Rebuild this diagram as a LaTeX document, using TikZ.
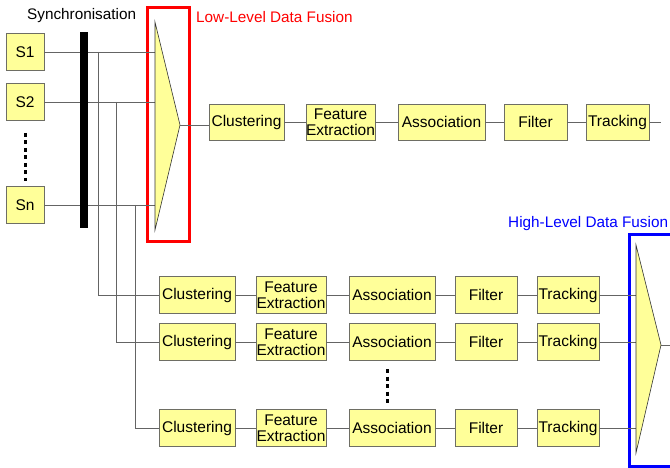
\documentclass[tikz,border=0pt]{standalone}
\usepackage{fontspec}
\setmainfont{Liberation Sans}
\definecolor{boxfill}{RGB}{255,255,153}
\definecolor{boxline}{RGB}{110,110,100}
\definecolor{conn}{RGB}{100,100,100}
\tikzset{
  proc/.style={draw=boxline, fill=boxfill, line width=0.9pt, inner sep=0pt,
    minimum height=36pt, align=center, font=\fontsize{15.5}{16.5}\selectfont},
  wire/.style={draw=conn, line width=0.9pt},
  fuse/.style={draw=black!80, fill=boxfill, line width=0.6pt},
  dotcol/.style={draw=black, line width=3pt, dash pattern=on 4pt off 3.5pt},
  lbl/.style={font=\fontsize{15.3}{17}\selectfont, inner sep=0pt, anchor=west}
}
\begin{document}
\begin{tikzpicture}[x=1pt,y=-1pt]
\useasboundingbox (0,0) rectangle (670,468);
\clip (0,0) rectangle (670,468);
\fill[white] (0,0) rectangle (670,468);

% labels
\node[lbl] (synclbl) at (27,16) {Synchronisation};
\node[lbl, text={rgb,255:red,255;green,0;blue,0}] (lowlbl) at (196,17) {Low-Level Data Fusion};
\node[lbl, text={rgb,255:red,0;green,0;blue,255}] (highlbl) at (508,224) {High-Level Data Fusion};

% sensors
\node[proc, minimum width=38pt, minimum height=37pt] (s1) at (25,52) {S1};
\node[proc, minimum width=38pt, minimum height=37pt] (s2) at (25,102) {S2};
\node[proc, minimum width=38pt, minimum height=37pt] (sn) at (25,205) {Sn};
\draw[dotcol] (25,133) -- (25,181);

% low level fusion triangle
\coordinate (lt) at (155,22);
\coordinate (lb) at (155,230);
\coordinate (ltip) at (180,125);
\draw[red, line width=3pt] (147,8) rectangle (189,242);

% top row
\node[proc, minimum width=75pt] (c0) at (246.5,122) {Clustering};
\node[proc, minimum width=69pt] (f0) at (340.5,122) {Feature\\Extraction};
\node[proc, minimum width=87pt] (a0) at (441.5,122) {Association};
\node[proc, minimum width=63pt] (fi0) at (535.5,122) {Filter};
\node[proc, minimum width=63pt] (t0) at (617.5,122) {Tracking};
\coordinate (out0) at (661,122);

% bottom rows
\foreach \r/\y in {1/295,2/342,3/428}{
  \node[proc, minimum width=76pt, minimum height=37pt] (c\r) at (197,\y) {Clustering};
  \node[proc, minimum width=70pt, minimum height=37pt] (f\r) at (291,\y) {Feature\\Extraction};
  \node[proc, minimum width=86pt, minimum height=37pt] (a\r) at (392,\y) {Association};
  \node[proc, minimum width=62pt, minimum height=37pt] (fi\r) at (486,\y) {Filter};
  \node[proc, minimum width=62pt, minimum height=37pt] (t\r) at (568,\y) {Tracking};
}
\draw[dotcol] (387,369) -- (387,404);

% high level fusion
\coordinate (ht) at (636,245);
\coordinate (hb) at (636,453);
\coordinate (htip) at (661,345);
\coordinate (hout) at (672,345);
\draw[blue, line width=3pt] (629,235) rectangle (676,466);

% wires: sensors to low-level fusion
\path (s1.east) -- (s1.east -| lt) coordinate (l1);
\path (s2.east) -- (s2.east -| lt) coordinate (l2);
\path (sn.east) -- (sn.east -| lt) coordinate (l3);
\draw[wire] (s1.east) -- (l1);
\draw[wire] (s2.east) -- (l2);
\draw[wire] (sn.east) -- (l3);
% branches to bottom rows
\coordinate (b1) at (98,0);
\coordinate (b2) at (116,0);
\coordinate (b3) at (135,0);
\draw[wire] (b1 |- s1.east) -- (b1 |- c1.west) -- (c1.west);
\draw[wire] (b2 |- s2.east) -- (b2 |- c2.west) -- (c2.west);
\draw[wire] (b3 |- sn.east) -- (b3 |- c3.west) -- (c3.west);

% sync bar
\fill[black] (80,32) rectangle (88,228);

% fusion triangles
\draw[fuse] (lt) -- (ltip) -- (lb) -- cycle;

% top row wires
\draw[wire] (ltip) -- (ltip -| c0.west);
\draw[wire] (c0) -- (f0) (f0) -- (a0) (a0) -- (fi0) (fi0) -- (t0);
\draw[wire] (t0.east) -- (out0);

% bottom row wires
\foreach \r in {1,2,3}{
  \draw[wire] (c\r) -- (f\r) (f\r) -- (a\r) (a\r) -- (fi\r) (fi\r) -- (t\r);
  \draw[wire] (t\r.east) -- (t\r.east -| ht);
}
\draw[wire] (htip) -- (hout);
\draw[fuse] (ht) -- (htip) -- (hb) -- cycle;
\end{tikzpicture}
\end{document}
